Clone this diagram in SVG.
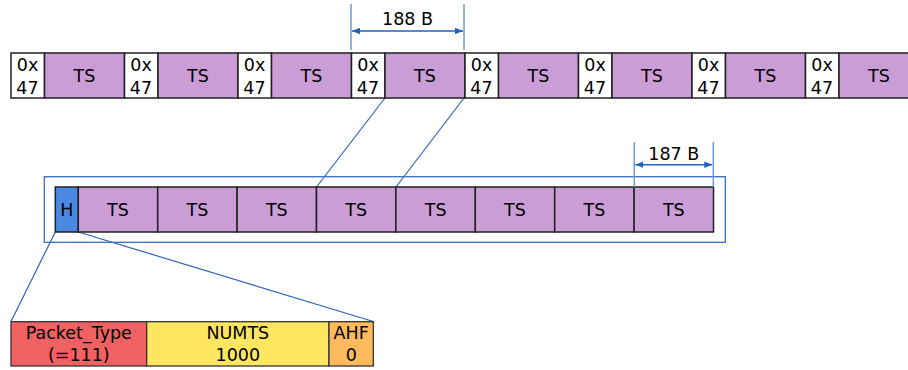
<svg xmlns="http://www.w3.org/2000/svg" width="908" height="370" viewBox="0 0 908 370">
<defs>
<style>
text{font-family:"DejaVu Sans",sans-serif;font-size:17.5px;fill:#000;text-anchor:middle}
.hx{fill:#fff;stroke:#222;stroke-width:1.5}
.ts{fill:#CB9DD6;stroke:#222;stroke-width:1.5}
.h{fill:#4A88E2;stroke:#222;stroke-width:1.5}
.conn{stroke:#2F64B8;stroke-width:1.2;fill:none}
.ext{stroke:#6C9BD6;stroke-width:1.5;fill:none}
.dim{stroke:#2060C0;stroke-width:1.5;fill:none}
.frame{fill:none;stroke:#3A6DBE;stroke-width:1.3}
</style>
<marker id="ah" viewBox="0 0 10 10" refX="10" refY="5" markerWidth="8" markerHeight="8" markerUnits="userSpaceOnUse" orient="auto-start-reverse">
<path d="M0,1 L10,5 L0,9 Z" fill="#2060C0"/>
</marker>
</defs>
<g id="connectors">
<line class="conn" x1="385" y1="98" x2="316.5" y2="187"/>
<line class="conn" x1="464" y1="98" x2="396" y2="187"/>
<line class="conn" x1="55.3" y1="232" x2="11" y2="321.5"/>
<line class="conn" x1="78.3" y1="232" x2="373.3" y2="321.5"/>
</g>
<g id="top-row">
<rect x="11" y="53" width="33.5" height="45" class="hx"/><text x="27.5" y="71">0x</text><text x="27.5" y="94">47</text>
<rect x="44.5" y="53" width="80" height="45" class="ts"/><text x="84.5" y="82">TS</text>
<rect x="124.5" y="53" width="33.5" height="45" class="hx"/><text x="141" y="71">0x</text><text x="141" y="94">47</text>
<rect x="158" y="53" width="80" height="45" class="ts"/><text x="198" y="82">TS</text>
<rect x="238" y="53" width="33.5" height="45" class="hx"/><text x="254.5" y="71">0x</text><text x="254.5" y="94">47</text>
<rect x="271.5" y="53" width="80" height="45" class="ts"/><text x="311.5" y="82">TS</text>
<rect x="351.5" y="53" width="33.5" height="45" class="hx"/><text x="368" y="71">0x</text><text x="368" y="94">47</text>
<rect x="385" y="53" width="80" height="45" class="ts"/><text x="425" y="82">TS</text>
<rect x="465" y="53" width="33.5" height="45" class="hx"/><text x="481.5" y="71">0x</text><text x="481.5" y="94">47</text>
<rect x="498.5" y="53" width="80" height="45" class="ts"/><text x="538.5" y="82">TS</text>
<rect x="578.5" y="53" width="33.5" height="45" class="hx"/><text x="595" y="71">0x</text><text x="595" y="94">47</text>
<rect x="612" y="53" width="80" height="45" class="ts"/><text x="652" y="82">TS</text>
<rect x="692" y="53" width="33.5" height="45" class="hx"/><text x="708.5" y="71">0x</text><text x="708.5" y="94">47</text>
<rect x="725.5" y="53" width="80" height="45" class="ts"/><text x="765.5" y="82">TS</text>
<rect x="805.5" y="53" width="33.5" height="45" class="hx"/><text x="822" y="71">0x</text><text x="822" y="94">47</text>
<rect x="839" y="53" width="80" height="45" class="ts"/><text x="879" y="82">TS</text>
</g>
<g id="dim-188">
<line class="ext" x1="351" y1="4" x2="351" y2="50"/>
<line class="ext" x1="464" y1="4" x2="464" y2="50"/>
<line class="dim" x1="352" y1="31" x2="463" y2="31" marker-start="url(#ah)" marker-end="url(#ah)"/>
<text x="407.5" y="25">188 B</text>
</g>
<g id="packet">
<rect class="frame" x="44.3" y="176.7" width="681" height="65.6"/>
<rect x="55.3" y="187" width="23" height="45" class="h"/><text x="66.8" y="216">H</text>
<rect x="78.3" y="187" width="79.4" height="45" class="ts"/><text x="118" y="216">TS</text>
<rect x="157.7" y="187" width="79.4" height="45" class="ts"/><text x="197.4" y="216">TS</text>
<rect x="237.1" y="187" width="79.4" height="45" class="ts"/><text x="276.8" y="216">TS</text>
<rect x="316.5" y="187" width="79.4" height="45" class="ts"/><text x="356.2" y="216">TS</text>
<rect x="395.9" y="187" width="79.4" height="45" class="ts"/><text x="435.6" y="216">TS</text>
<rect x="475.3" y="187" width="79.4" height="45" class="ts"/><text x="515" y="216">TS</text>
<rect x="554.7" y="187" width="79.4" height="45" class="ts"/><text x="594.4" y="216">TS</text>
<rect x="634.1" y="187" width="79.4" height="45" class="ts"/><text x="673.8" y="216">TS</text>
</g>
<g id="dim-187">
<line class="ext" x1="634.3" y1="142" x2="634.3" y2="187"/>
<line class="ext" x1="713.3" y1="142" x2="713.3" y2="187"/>
<line class="dim" x1="635.3" y1="164.7" x2="712.3" y2="164.7" marker-start="url(#ah)" marker-end="url(#ah)"/>
<text x="673.8" y="160">187 B</text>
</g>
<g id="header">
<rect x="11" y="321.7" width="135.7" height="44.3" fill="#F06262" stroke="#333" stroke-width="1.3"/>
<text x="78.8" y="338.5">Packet_Type</text><text x="78.8" y="361">(=111)</text>
<rect x="146.7" y="321.7" width="182.3" height="44.3" fill="#FFE660" stroke="#333" stroke-width="1.3"/>
<text x="237.8" y="338.5">NUMTS</text><text x="237.8" y="361">1000</text>
<rect x="329" y="321.7" width="44.3" height="44.3" fill="#FFBA5E" stroke="#333" stroke-width="1.3"/>
<text x="351.2" y="338.5">AHF</text><text x="351.2" y="361">0</text>
</g>
</svg>
